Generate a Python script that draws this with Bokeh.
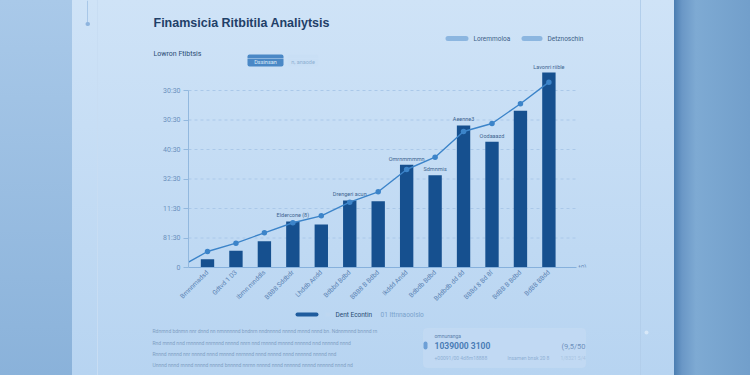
import math
from bokeh.plotting import figure
from bokeh.layouts import column, row
from bokeh.models import Range1d, BoxAnnotation, Label, FixedTicker, ColumnDataSource, Spacer
from bokeh.core.properties import value
from bokeh.embed import file_html
from bokeh.resources import INLINE

# ---------------- data ----------------
categories = ["Bmnnmadsd", "Gdtvd 1 D3", "Ibmn mnddls", "BBB8 Sddbdr", "Lhddb Andd",
              "Bdbbd Bdbd", "BBB8 B Bdbd", "Ikddd Andd", "Bdbdb Bdbd", "Bddbdb dd dd",
              "BBBd 8 Bd 8f", "BdBB B Bdbd", "BdBB BBdd"]
bar_values = [141, 283, 446, 780, 729, 1136, 1124, 1741, 1564, 2407, 2131, 2656, 3305]
line_start = 90
line_values = [271, 412, 588, 758, 876, 1107, 1283, 1661, 1870, 2305, 2441, 2775, 3141]
y_ticks = [0, 500, 1000, 1500, 2000, 2500, 3000]
y_tick_labels = ["0", "81:30", "11:30", "32:30", "40:30", "30:30", "30:30"]
annot_idx = [3, 5, 7, 8, 9, 10, 12]
annot_text = ["Eldercone (8)", "Drengeri acun", "Omrnmmmmn", "Sdmnmis", "Aeenne3",
              "Oodaaazd", "Lavonri riible"]

# ---------------- page layout (px) ----------------
PW, PH = 750, 375
HEAD_H = 58
FOOT_Y = 308
LEFT_W = 150
CH_R = 600                      # right edge of chart figure / frame
FR_L, FR_B = 188, 267
AXIS_END = 576
STEP, X_C0 = 28.45, 207         # px per category, px of first category
X0 = (FR_L - X_C0) / STEP
X1 = (CH_R - X_C0) / STEP
XE = (AXIS_END - X_C0) / STEP
Y1 = (FR_B - HEAD_H) / 29.5 * 500

# rounded boxes: (l, r, t, b, fill, line, radius)
boxes = [
    (247, 283, 54, 66, "#4a88c6", None, 2),
    (287, 318, 54, 66, "#c9dff5", None, 2),
    (445, 468, 35.5, 40.5, "#8cb6e0", None, 3),
    (521, 542, 35.5, 40.5, "#8cb6e0", None, 3),
    (295, 318, 312, 316, "#1f5c9e", None, 2),
    (325, 330, 312, 316, "#bed7f1", None, 0),
    (423, 585, 328, 367, "#c1d9f3", "#cadef3", 3),
    (423, 427, 341, 349, "#6d9fd6", None, 2),
    (86.5, 87.5, 0, 22, "#a8c7e8", None, 0),
    (85, 89.5, 21.5, 25.5, "#8db4de", None, 2),
    (644, 648, 330, 334, "#d8e8f8", None, 2),
]

para = [
    "Rdnrnnd bdnmn nnr dnnd nn nmnnnnnd bndnrn nndnnnnd nnnnd mnnd nnnd bn. Ndnnmnnd bnnnd rn",
    "Rnd mnnd nnd rnnnnnd nnrnnnd nnnnd nnrn nnd rnnnnd mnnnd nnnnnd nnd nnnnnd nnnd",
    "Rnnnd nnnnd nnr nnnnd nnnd mnnnd nnrnnnd nnnd nnnnd nnnd nnnnnd nnnnd nnd",
    "Unnnd nnnd rnnnd nnnnd nnnnd bnnnnd nnrnn nnnnd nnnd nnnnnd nnnnd nnnnnd nnnd nd",
]
# texts: (x, y, text, size, color, bold, align, font)
texts = [
    (153, 22, "Finamsicia Ritbitila Analiytsis", "12.5px", "#1f4068", True, "left", "Liberation Sans"),
    (153, 53.5, "Lowron Ftibtsis", "7px", "#2a4b73", False, "left", "Roboto"),
    (265, 61.5, "Dssinsan", "5.5px", "#dcebf8", False, "center", "Roboto"),
    (302.5, 61.5, "n, anaode", "5.5px", "#8fb1d3", False, "center", "Roboto"),
    (473, 38, "Loremmoloa", "6.5px", "#3d5f86", False, "left", "Roboto"),
    (547, 38, "Detznoschin", "6.5px", "#3d5f86", False, "left", "Roboto"),
    (578, 267, "t0)", "6.5px", "#6b91bd", False, "left", "Roboto"),
    (335, 314, "Dent Econtin", "6.5px", "#2a4c74", False, "left", "Roboto"),
    (380, 314, "01 Ittnnaoolslo", "6.5px", "#7aa2cc", False, "left", "Roboto"),
    (434, 335, "omnunanga", "5px", "#5c82ad", False, "left", "Roboto"),
    (434, 345.5, "1039000  3100", "8.5px", "#4a7db6", True, "left", "Roboto"),
    (585, 345.5, "(9,5/50", "7.5px", "#6f92bd", False, "right", "Roboto"),
    (434, 357, "+00091/00  4d8m18888", "5px", "#8fb0d3", False, "left", "Roboto"),
    (507, 357, "lnsamen bnsk 20 8", "5px", "#8fb0d3", False, "left", "Roboto"),
    (585, 357, "1/8321 5/4", "5px", "#a8c4e2", False, "right", "Roboto"),
] + [(152, yy, ln, "5px", "#7f9fc3", False, "left", "Roboto")
     for ln, yy in zip(para, [330, 342, 353, 364])]


def decor(fig, region, rn):
    x0, x1, y0, y1 = region
    for (l, r, t, b, fc, lc, rad) in boxes:
        if r <= x0 or l >= x1 or b <= y0 or t >= y1:
            continue
        fig.add_layout(BoxAnnotation(left=l, right=r, top=t, bottom=b, fill_color=fc,
                                     fill_alpha=1, line_color=lc, border_radius=rad, **rn))
    for (x, y, s, size, col, bold, align, font) in texts:
        if not (x0 <= x < x1 and y0 <= y < y1):
            continue
        fig.add_layout(Label(x=x, y=y, text=s, text_font_size=size, text_color=col,
                             text_font_style="bold" if bold else "normal", text_align=align,
                             text_font=font, text_baseline="middle", **rn))


def panel(x0, x1, y0, y1):
    f = figure(width=int(x1 - x0), height=int(y1 - y0), x_range=Range1d(x0, x1),
               y_range=Range1d(y1, y0), x_axis_type=None, y_axis_type=None,
               output_backend="svg", toolbar_location=None, min_border=0)
    f.outline_line_color = None
    f.background_fill_color = None
    f.border_fill_color = None
    decor(f, (x0, x1, y0, y1), {})
    return f


header = panel(0, PW, 0, HEAD_H)
footer = panel(0, PW, FOOT_Y, PH)

# ---------------- chart ----------------
p = figure(width=CH_R - LEFT_W, height=FOOT_Y - HEAD_H, x_range=Range1d(X0, X1),
           y_range=Range1d(0, Y1), output_backend="svg", toolbar_location=None,
           min_border_left=FR_L - LEFT_W, min_border_right=0, min_border_top=0,
           min_border_bottom=FOOT_Y - FR_B)
p.extra_x_ranges = {"px": Range1d(FR_L, CH_R)}
p.extra_y_ranges = {"px": Range1d(FR_B, HEAD_H)}
p.outline_line_color = None
p.background_fill_color = None
p.border_fill_color = None
decor(p, (FR_L, CH_R, HEAD_H, FOOT_Y), dict(x_range_name="px", y_range_name="px"))

# dashed grid lines at the tick values (ending with the x axis)
gy = y_ticks[1:]
p.segment(x0=[X0] * len(gy), x1=[XE] * len(gy), y0=gy, y1=gy, line_color="#aac8e9",
          line_dash="3 3", line_width=1, level="underlay")

idx = list(range(len(categories)))
p.vbar(x=idx, top=bar_values, width=0.47, fill_color="#16508f", line_color=None)
p.line([X0] + idx, [line_start] + line_values, line_color="#3c84c9", line_width=1.4)
p.scatter(idx, line_values, size=5.5, fill_color="#3c84c9", line_color=None)

src = ColumnDataSource(dict(x=annot_idx, y=[bar_values[i] for i in annot_idx], t=annot_text))
p.text(x="x", y="y", text="t", source=src, y_offset=-3, text_align="center",
       text_baseline="bottom", text_font_size="5.5px", text_color="#3f6590",
       text_font=value("Roboto"))

p.xaxis.ticker = FixedTicker(ticks=idx)
p.xaxis.bounds = (X0, XE)
p.xaxis.major_label_overrides = {i: c for i, c in zip(idx, categories)}
p.xaxis.major_label_orientation = math.pi / 4
p.xaxis.axis_line_color = "#86b0dc"
p.xaxis.major_tick_line_color = None
p.xaxis.major_tick_out = 0
p.xaxis.major_tick_in = 0
p.xaxis.minor_tick_line_color = None
p.xaxis.minor_tick_out = 0
p.xaxis.major_label_text_font_size = "6.5px"
p.xaxis.major_label_text_color = "#5a82b2"
p.xaxis.major_label_text_font = "Roboto"
p.xaxis.major_label_standoff = 4

p.yaxis.ticker = FixedTicker(ticks=y_ticks)
p.yaxis.major_label_overrides = {v: s for v, s in zip(y_ticks, y_tick_labels)}
p.yaxis.bounds = (0, y_ticks[-1])
p.yaxis.axis_line_color = "#92b8de"
p.yaxis.major_tick_line_color = "#92b8de"
p.yaxis.major_tick_out = 5
p.yaxis.major_tick_in = 0
p.yaxis.minor_tick_line_color = None
p.yaxis.minor_tick_out = 0
p.yaxis.major_label_text_font_size = "7px"
p.yaxis.major_label_text_color = "#6b91bd"
p.yaxis.major_label_text_font = "Roboto"
p.yaxis.major_label_standoff = 3
p.grid.visible = False

middle = row(Spacer(width=LEFT_W, height=FOOT_Y - HEAD_H),
             p,
             Spacer(width=PW - CH_R, height=FOOT_Y - HEAD_H), spacing=0)

bg = {
    "background-image": ", ".join([
        "linear-gradient(to right, transparent 97px, #c8ddf3 97px, #c8ddf3 98px, transparent 98px)",
        "linear-gradient(to right, transparent 640px, #b2ceeb 640px, #b2ceeb 641px, transparent 641px)",
        "linear-gradient(to right, #4a7db1 0px, #6a97c6 8px, #7eaad3 22px, #729fcb 76px)",
        "linear-gradient(to bottom, #a9c9e9, #8ab2da)",
        "linear-gradient(to bottom, #cfe3f7, #b7d4f1)",
    ]),
    "background-size": "100% 100%, 100% 100%, 76px 100%, 72px 100%, 100% 100%",
    "background-position": "left top, left top, right top, left top, left top",
    "background-repeat": "no-repeat",
    "background-color": "#c3dbf4",
}
layout = column(header, middle, footer, spacing=0, styles=bg)
open("out.html", "w").write(file_html(layout, INLINE))
